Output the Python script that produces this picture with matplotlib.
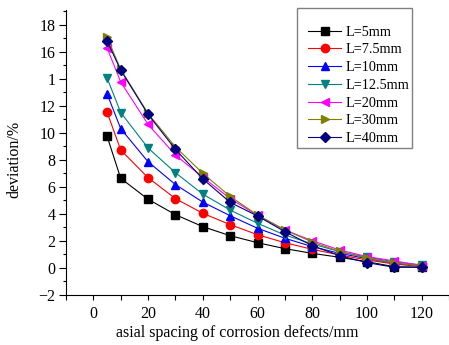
import matplotlib
matplotlib.use("Agg")
import matplotlib.pyplot as plt
from matplotlib.patches import Rectangle
from matplotlib.ticker import MultipleLocator

# spacing of corrosion defects (mm)
spacing = [5, 10, 20, 30, 40, 50, 60, 70, 80, 90, 100, 110, 120]

dev_5 = [9.75, 6.62, 5.07, 3.93, 3.04, 2.37, 1.85, 1.41, 1.06, 0.77, 0.44, 0.07, 0.03]
dev_7_5 = [11.53, 8.72, 6.67, 5.12, 4.03, 3.19, 2.44, 1.85, 1.36, 0.94, 0.57, 0.27, 0.07]
dev_10 = [12.9, 10.3, 7.85, 6.16, 4.86, 3.85, 2.92, 2.18, 1.56, 1.06, 0.67, 0.33, 0.12]
dev_12_5 = [14.07, 11.5, 8.87, 7.04, 5.45, 4.27, 3.29, 2.42, 1.76, 1.19, 0.77, 0.44, 0.2]
dev_20 = [16.3, 13.76, 10.62, 8.35, 6.7, 5.12, 3.88, 2.79, 2.0, 1.31, 0.82, 0.5, 0.15]
dev_30 = [17.07, 14.7, 11.43, 8.95, 6.99, 5.28, 3.9, 2.8, 1.9, 1.2, 0.7, 0.35, 0.1]
dev_40 = [16.81, 14.64, 11.36, 8.77, 6.58, 4.84, 3.83, 2.67, 1.63, 0.89, 0.37, 0.03, 0.03]

labels = ["L=5mm", "L=7.5mm", "L=10mm", "L=12.5mm", "L=20mm", "L=30mm", "L=40mm"]
series = [dev_5, dev_7_5, dev_10, dev_12_5, dev_20, dev_30, dev_40]
colors = ["black", "red", "blue", "#008080", "magenta", "#808000", "#000080"]
markers = ["s", "o", "^", "v", "<", ">", "D"]

ytick_vals = [-2, 0, 2, 4, 6, 8, 10, 12, 14, 16, 18]
ytick_labels = ["\u22122", "0", "2", "4", "6", "8", "10", "12", "1", "16", "18"]  # "1" as printed in the source

plt.rcParams["font.family"] = ["Liberation Serif", "DejaVu Serif"]
plt.rcParams["font.size"] = 11.5

fig = plt.figure(figsize=(4.49, 3.45), dpi=100)
ax = fig.add_axes([0.147, 0.146, 0.853, 0.825])

for y, lab, c, m in zip(series, labels, colors, markers):
    ms = 5 if m == "D" else 6
    ax.plot(spacing, y, color=c, marker=m, markersize=ms, linewidth=0.8, label=lab)

ax.set_xlim(-10, 130)
ax.set_ylim(-2, 19.1)
ax.set_xticks([0, 20, 40, 60, 80, 100, 120])
ax.xaxis.set_minor_locator(MultipleLocator(10))
ax.set_yticks(ytick_vals)
ax.set_yticklabels(ytick_labels)
ax.yaxis.set_minor_locator(MultipleLocator(1))
ax.tick_params(axis="y", which="major", direction="out", length=5, width=0.8, pad=2.5)
ax.tick_params(axis="y", which="minor", direction="out", length=2.5, width=0.8)
ax.tick_params(axis="x", which="both", direction="out", length=3.5, width=0.8, pad=5)

ax.spines["top"].set_visible(False)
ax.spines["right"].set_visible(False)

ax.set_xlabel("asial spacing of corrosion defects/mm")
ax.xaxis.set_label_coords(0.447, -0.105)
ax.set_ylabel("deviation/%")
ax.yaxis.set_label_coords(-0.115, 0.474)

# legend box drawn by hand (the original frame has more room on top and left)
ax.add_patch(Rectangle((0.603, 0.516), 0.300, 0.491, transform=ax.transAxes,
                       fill=False, edgecolor="gray", linewidth=1.0, clip_on=False, zorder=5))
ax.legend(loc="upper left", bbox_to_anchor=(0.632, 0.945), frameon=False, fontsize=10.3,
          handlelength=2.3, labelspacing=0.33, borderpad=0.0, handletextpad=0.3,
          borderaxespad=0.0)

fig.savefig("out.png", dpi=100)
